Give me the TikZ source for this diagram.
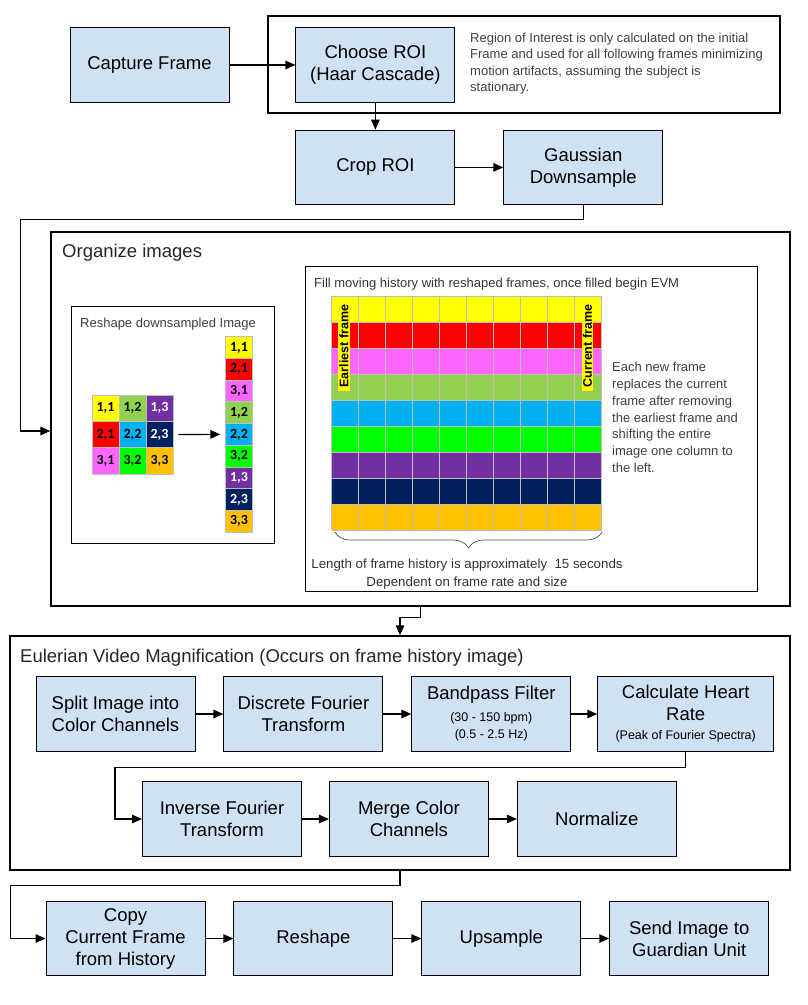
\documentclass[tikz,border=0pt]{standalone}
\usepackage{fontspec}
\setmainfont{Liberation Sans}
\newfontfamily\cellfont{Carlito}
\usetikzlibrary{arrows.meta,positioning,decorations.pathreplacing}
\definecolor{boxblue}{HTML}{CFE2F3}
\definecolor{notegray}{HTML}{404040}
\definecolor{gridgray}{HTML}{BFBFBF}
\definecolor{cell1}{HTML}{FFFF00}
\definecolor{cell2}{HTML}{FF0000}
\definecolor{cell3}{HTML}{FF66FF}
\definecolor{cell4}{HTML}{92D050}
\definecolor{cell5}{HTML}{00B0F0}
\definecolor{cell6}{HTML}{00FF00}
\definecolor{cell7}{HTML}{7030A0}
\definecolor{cell8}{HTML}{002060}
\definecolor{cell9}{HTML}{FFC000}
\newcommand{\smallfnt}{\fontsize{12.5}{16}\selectfont}
\tikzset{
  stepbox/.style={
    rectangle, draw=black, fill=boxblue, line width=0.9pt,
    minimum width=159pt, minimum height=74.5pt,
    font=\fontsize{18.5}{22}\selectfont, align=center, inner sep=2pt
  },
  flowarrow/.style={
    -{Triangle[length=10pt,width=8.5pt]}, line width=1.2pt
  },
  groupbox/.style={
    rectangle, draw=black, line width=1.4pt, inner sep=0pt
  },
  thinbox/.style={
    rectangle, draw=black, line width=1pt, inner sep=0pt
  },
  grouptitle/.style={
    font=\fontsize{18.5}{22}\selectfont, text=black!85, inner sep=0pt
  },
  notetext/.style={
    font=\fontsize{13}{16.8}\selectfont, text=notegray, align=left, inner sep=0pt
  },
  cellbox/.style={
    rectangle, draw=gridgray, line width=0.7pt, fill=#1,
    minimum width=27pt, minimum height=26.3pt, inner sep=0pt,
    font=\cellfont\bfseries\fontsize{14}{14}\selectfont
  },
  colbox/.style={
    cellbox=#1, minimum width=26.6pt, minimum height=21.7pt
  },
  vlabel/.style={
    rotate=90, fill=cell1, inner xsep=3.5pt, inner ysep=1.2pt,
    font=\bfseries\fontsize{12.5}{12.5}\selectfont
  },
}

\begin{document}
\begin{tikzpicture}[x=1pt, y=-1pt]
  \useasboundingbox (0,0) rectangle (807,1005);

  % Region of interest
  \node[groupbox, minimum width=512pt, minimum height=97pt] (roigroup) at (524,64.5) {};
  \node[stepbox] (capture) at (149.5,65) {Capture Frame};
  \node[stepbox, right=66pt of capture] (chooseroi) {Choose ROI\\(Haar Cascade)};
  \node[notetext, anchor=north west, font=\fontsize{13}{16.3}\selectfont] (roinote) at (470,33)
    {Region of Interest is only calculated on the initial\\Frame and used for all following frames minimizing\\motion artifacts, assuming the subject is\\stationary.};
  \node[stepbox, below=27pt of chooseroi] (croproi) {Crop ROI};
  \node[stepbox, right=48pt of croproi] (gauss) {Gaussian\\Downsample};

  \draw[flowarrow] (capture) -- (chooseroi);
  \draw[flowarrow] (chooseroi) -- (croproi);
  \draw[flowarrow] (croproi) -- (gauss);

  % Organize images
  \node[groupbox, minimum width=739pt, minimum height=374pt] (organize) at (420.5,419) {};
  \node[grouptitle, anchor=west] (orgtitle) at (62,253) {Organize images};
  \draw[flowarrow] (gauss.south) -- ++(0,14)
    -| ([xshift=-30pt,yshift=-12pt]organize.west) -- ([yshift=-12pt]organize.west);

  % Reshape downsampled image
  \node[thinbox, minimum width=203pt, minimum height=237pt] (reshapebox) at (172.5,424.5) {};
  \node[notetext, anchor=west] (reshapetitle) at (80,324) {Reshape downsampled Image};
  \foreach \k in {1,2,3}{
    \foreach \r in {1,2,3}{
      \pgfmathtruncatemacro{\i}{(\k-1)*3+\r}
      \ifnum\i=7 \def\fg{white}\else\ifnum\i=8 \def\fg{white}\else\def\fg{black}\fi\fi
      \node[cellbox=cell\i, text=\fg] (g\r\k) at ({105.5+27*(\k-1)},{408.15+26.3*(\r-1)}) {\r,\k};
      \node[colbox=cell\i, text=\fg] (c\i) at (239,{347.55+21.7*(\i-1)}) {\r,\k};
    }
  }
  \draw[flowarrow, shorten <=5pt, shorten >=5pt] (g23.east) -- (c5.west);

  % Frame history
  \node[thinbox, minimum width=452pt, minimum height=325pt] (historybox) at (531,428.5) {};
  \node[notetext, anchor=west, text=black!80] (histtitle) at (314,284)
    {Fill moving history with reshaped frames, once filled begin EVM};
  \foreach \i in {1,...,9}
    \fill[cell\i] (331.7,{296+26*(\i-1)}) rectangle ++(270,26);
  \foreach \j in {0,...,10}
    \draw[gridgray, line width=0.7pt] ({331.7+27*\j},296) -- ++(0,234);
  \foreach \j in {0,...,9}
    \draw[gridgray, line width=0.7pt] (331.7,{296+26*\j}) -- ++(270,0);
  \node[vlabel] (earliest) at (344,346) {Earliest frame};
  \node[vlabel] (current) at (587.5,346) {Current frame};
  \coordinate (hleft) at (335,532);
  \coordinate (hright) at (602,532);
  \draw[decorate, decoration={brace, amplitude=16pt}, black!70, line width=0.7pt] (hright) -- (hleft);
  \node[notetext, align=center, text=black!80, font=\fontsize{13.3}{17.5}\selectfont] (lengthnote) at (467,574)
    {Length of frame history is approximately\ \ 15 seconds\\Dependent on frame rate and size};
  \node[notetext, anchor=north west] (shiftnote) at (612,362)
    {Each new frame\\replaces the current\\frame after removing\\the earliest frame and\\shifting the entire\\image one column to\\the left.};

  % Eulerian video magnification
  \node[groupbox, minimum width=780pt, minimum height=234pt] (evm) at (400,753) {};
  \node[grouptitle, anchor=west] (evmtitle) at (20,658)
    {Eulerian Video Magnification (Occurs on frame history image)};
  \draw[flowarrow] (organize.south) -- ++(0,11) -| (evm.north);

  \node[stepbox] (split) at (115.5,714) {Split Image into\\Color Channels};
  \node[stepbox, right=28pt of split] (dft) {Discrete Fourier\\Transform};
  \node[stepbox, right=28pt of dft] (bandpass)
    {Bandpass Filter\\{\smallfnt (30 - 150 bpm)}\\[-5pt]{\smallfnt (0.5 - 2.5 Hz)}};
  \node[stepbox, right=26pt of bandpass, minimum width=176pt] (heartrate)
    {Calculate Heart\\Rate\\[-3pt]{\smallfnt (Peak of Fourier Spectra)}};
  \node[stepbox] (ifft) at (222,819) {Inverse Fourier\\Transform};
  \node[stepbox, right=27pt of ifft] (merge) {Merge Color\\Channels};
  \node[stepbox, right=28pt of merge] (normalize) {Normalize};

  \draw[flowarrow] (split) -- (dft);
  \draw[flowarrow] (dft) -- (bandpass);
  \draw[flowarrow] (bandpass) -- (heartrate);
  \draw[flowarrow] (heartrate.south) -- ++(0,16) -| ([xshift=-27pt]ifft.west) -- (ifft.west);
  \draw[flowarrow] (ifft) -- (merge);
  \draw[flowarrow] (merge) -- (normalize);

  % Output
  \node[stepbox] (copyframe) at (125.5,938.5) {Copy\\Current Frame\\from History};
  \node[stepbox, right=28pt of copyframe] (reshape) {Reshape};
  \node[stepbox, right=28pt of reshape] (upsample) {Upsample};
  \node[stepbox, right=28pt of upsample] (send) {Send Image to\\Guardian Unit};

  \draw[flowarrow] (evm.south) -- ++(0,14.5) -| ([xshift=-35pt]copyframe.west) -- (copyframe.west);
  \draw[flowarrow] (copyframe) -- (reshape);
  \draw[flowarrow] (reshape) -- (upsample);
  \draw[flowarrow] (upsample) -- (send);
\end{tikzpicture}
\end{document}
